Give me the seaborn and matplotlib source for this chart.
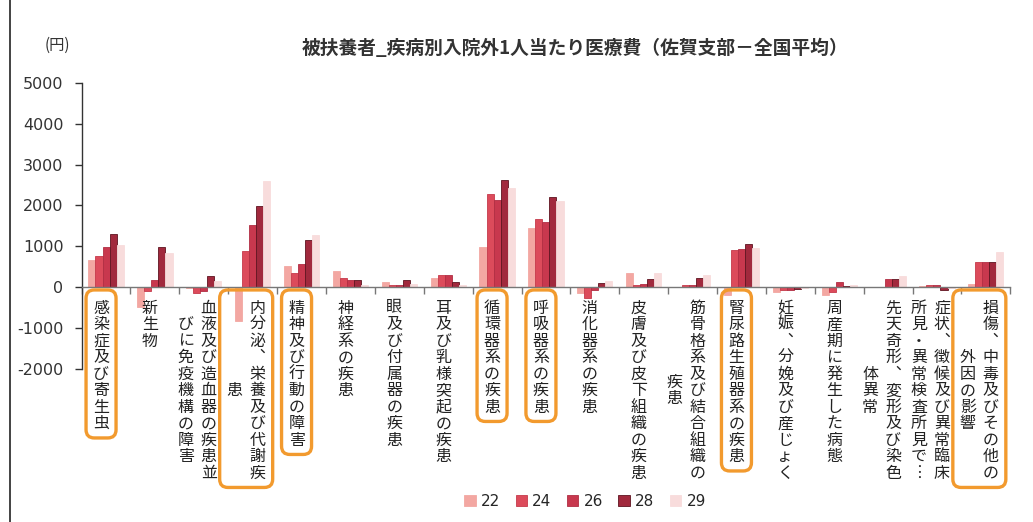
import numpy as np
import pandas as pd
import seaborn as sns
import matplotlib
matplotlib.use("Agg")
import matplotlib.pyplot as plt
from matplotlib.patches import Patch, FancyBboxPatch
from matplotlib.lines import Line2D

# --- data -----------------------------------------------------------------
categories = [
    "感染症及び寄生虫症", "新生物", "血液及び造血器の疾患並びに免疫機構の障害",
    "内分泌、栄養及び代謝疾患", "精神及び行動の障害", "神経系の疾患",
    "眼及び付属器の疾患", "耳及び乳様突起の疾患", "循環器系の疾患",
    "呼吸器系の疾患", "消化器系の疾患", "皮膚及び皮下組織の疾患",
    "筋骨格系及び結合組織の疾患", "腎尿路生殖器系の疾患",
    "妊娠、分娩及び産じょく", "周産期に発生した病態",
    "先天奇形、変形及び染色体異常", "症状、徴候及び異常臨床所見・異常検査所見で…",
    "損傷、中毒及びその他の外因の影響",
]
# axis labels as printed, split into vertical columns (right column first)
label_columns = [
    ["感染症及び寄生虫"], ["新生物"], ["血液及び造血器の疾患並", "びに免疫機構の障害"],
    ["内分泌︑栄養及び代謝疾", "患"], ["精神及び行動の障害"], ["神経系の疾患"],
    ["眼及び付属器の疾患"], ["耳及び乳様突起の疾患"], ["循環器系の疾患"],
    ["呼吸器系の疾患"], ["消化器系の疾患"], ["皮膚及び皮下組織の疾患"],
    ["筋骨格系及び結合組織の", "疾患"], ["腎尿路生殖器系の疾患"],
    ["妊娠︑分娩及び産じょく"], ["周産期に発生した病態"],
    ["先天奇形︑変形及び染色", "体異常"], ["症状︑徴候及び異常臨床", "所見・異常検査所見で︙"],
    ["損傷︑中毒及びその他の", "外因の影響"],
]
highlighted = [0, 3, 4, 8, 9, 13, 18]

years = ["22", "24", "26", "28", "29"]
v22 = [650, -480, -30, -830, 510, 385, 115, 220, 970, 1450, -150, 340, 0, -200, -120, -200, 0, 20, 80]
v24 = [770, -105, -150, 875, 350, 220, 50, 285, 2290, 1670, -270, 40, 40, 915, -80, -120, 10, 50, 610]
v26 = [990, 180, -105, 1510, 570, 165, 50, 285, 2140, 1600, -80, 80, 50, 940, -80, 110, 205, 40, 600]
v28 = [1290, 985, 260, 1980, 1140, 165, 180, 115, 2610, 2210, 100, 200, 230, 1060, -60, 20, 205, -70, 620]
v29 = [1020, 840, 140, 2600, 1280, 60, 80, 50, 2430, 2100, 150, 330, 300, 950, -30, 60, 270, -30, 860]
series = [v22, v24, v26, v28, v29]

colors = ["#f3a7a2", "#dc4b5b", "#c8384e", "#a1293d", "#f8dcdc"]
edges = ["#f3a7a2", "#c53a4b", "#b02e43", "#5e1420", "#f8dcdc"]

df = pd.DataFrame({
    "category": np.repeat([categories], len(years), axis=0).ravel(),
    "year": np.repeat(years, len(categories)),
    "value": np.concatenate(series),
})

# --- figure ---------------------------------------------------------------
sns.set_theme(style="white")
plt.rcParams["font.family"] = ["Noto Sans CJK JP", "DejaVu Sans"]

W, H = 1033, 522
fig = plt.figure(figsize=(W / 100, H / 100), dpi=100)
ax = fig.add_axes([0.079, 0.294, 0.899, 0.547])

sns.barplot(data=df, x="category", y="value", hue="year", order=categories,
            hue_order=years, palette=colors, width=0.72, gap=0, legend=False,
            saturation=1, ax=ax)
for cont, ec in zip(ax.containers, edges):
    for bar in cont:
        bar.set_edgecolor(ec)
        bar.set_linewidth(0.6)

ax.set_xlim(-0.5, len(categories) - 0.5)
ax.set_ylim(-2000, 5000)
ax.set_yticks(range(-2000, 5001, 1000))
ax.set_yticklabels([str(v) for v in range(-2000, 5001, 1000)],
                   family="DejaVu Sans", fontsize=11.5, color="#333333")
ax.set_xticks(np.arange(-0.5, len(categories), 1.0))
ax.set_xticklabels([])
ax.set_xlabel("")
ax.set_ylabel("")
for s in ["top", "right"]:
    ax.spines[s].set_visible(False)
ax.spines["bottom"].set_position(("data", 0))
ax.spines["bottom"].set_color("#777777")
ax.spines["bottom"].set_linewidth(1.0)
ax.spines["left"].set_color("#333333")
ax.spines["left"].set_linewidth(1.0)
ax.tick_params(axis="y", direction="out", length=5, width=1, color="#333333", left=True, pad=8)
ax.tick_params(axis="x", direction="out", length=5, width=1, color="#777777", bottom=True)
ax.grid(False)

fig.text(575 / W, 1 - 48 / H, "被扶養者_疾病別入院外1人当たり医療費（佐賀支部－全国平均）",
         ha="center", va="center", fontsize=13.5, fontweight="bold", color="#333333")
fig.text(57 / W, 1 - 45 / H, "(円)", ha="center", va="center", fontsize=11, color="#333333")

# --- vertical category labels -----------------------------------------------
to_fig = fig.transFigure.inverted()
pitch = 16.5        # px per character
top_gap = 13        # px from the zero line to the first character
col_w = 16
for i, cols in enumerate(label_columns):
    x0, y0 = ax.transData.transform((i, 0))
    n_long = max(len(c) for c in cols)
    if len(cols) == 1:
        xs = [x0 - 5]
    else:
        xs = [x0 + 5, x0 - 18]
    for cx, col in zip(xs, cols):
        start = y0 - top_gap - (n_long - len(col)) / 2 * pitch
        for k, ch in enumerate(col):
            yc = start - (k + 0.5) * pitch
            fx, fy = to_fig.transform((cx, yc))
            fig.text(fx, fy, ch, ha="center", va="center", fontsize=11.5, color="#222222")
    if i in highlighted:
        left = min(xs) - col_w / 2 - 7
        right = max(xs) + col_w / 2 + 7
        top = y0 - 3
        bottom = y0 - top_gap - n_long * pitch - 6
        (fl, fb) = to_fig.transform((left, bottom))
        (fr, ft) = to_fig.transform((right, top))
        box = FancyBboxPatch((fl, fb), fr - fl, ft - fb, transform=fig.transFigure,
                             boxstyle="round,pad=0,rounding_size=0.008",
                             facecolor="none", edgecolor="#f29a2e", linewidth=2.4,
                             mutation_aspect=W / H)
        fig.patches.append(box)

# --- legend -----------------------------------------------------------------
handles = [Patch(facecolor=c, edgecolor=e, linewidth=0.6) for c, e in zip(colors, edges)]
fig.legend(handles, years, loc="center", bbox_to_anchor=(585 / W, 1 - 501 / H), ncol=5,
           frameon=False, handlelength=0.75, handleheight=0.75, handletextpad=0.35,
           columnspacing=1.0, prop={"family": "DejaVu Sans", "size": 11})

# left frame line of the chart area
fig.add_artist(Line2D([10 / W, 10 / W], [0.0, 1.0], transform=fig.transFigure,
                      color="#222222", linewidth=1.2))

fig.savefig("out.png", dpi=100, facecolor="white")
